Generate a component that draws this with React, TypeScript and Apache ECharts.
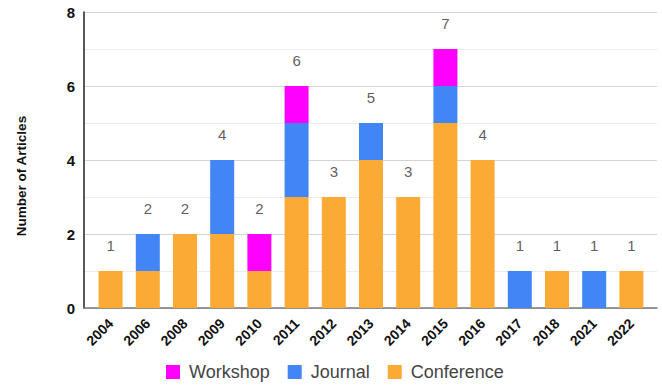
import React, { useEffect, useRef } from "react";
import * as echarts from "echarts";

const years = ["2004", "2006", "2008", "2009", "2010", "2011", "2012", "2013", "2014", "2015", "2016", "2017", "2018", "2021", "2022"];
const conference = [1, 1, 2, 2, 1, 3, 3, 4, 3, 5, 4, 0, 1, 0, 1];
const journal = [0, 1, 0, 2, 0, 2, 0, 1, 0, 1, 0, 1, 0, 1, 0];
const workshop = [0, 0, 0, 0, 1, 1, 0, 0, 0, 1, 0, 0, 0, 0, 0];
const yTicks = [0, 2, 4, 6, 8];

const totals = years.map((_, i) => conference[i] + journal[i] + workshop[i]);

const COLORS = { workshop: "#ff00ff", journal: "#4285f4", conference: "#fbab35" };

export default function App() {
  const ref = useRef<HTMLDivElement>(null);

  useEffect(() => {
    if (!ref.current) return;
    const chart = echarts.init(ref.current, undefined, { renderer: "svg" });
    const nz = (arr: number[]) => arr.map((v) => (v === 0 ? null : v));
    const barBase = { type: "bar", stack: "total", barWidth: 24, xAxisIndex: 1, yAxisIndex: 1 };
    chart.setOption({
      animation: false,
      textStyle: { fontFamily: "Arial, 'Liberation Sans', sans-serif" },
      // grid 0: frame, gridlines and value axis; grid 1: the bars, inset a little
      grid: [
        { left: 84, right: 5, top: 12, bottom: 80 },
        { left: 92, right: 12, top: 12, bottom: 80 },
      ],
      legend: {
        bottom: 2,
        left: 161,
        data: ["Workshop", "Journal", "Conference"],
        itemWidth: 14,
        itemHeight: 14,
        itemGap: 18,
        icon: "rect",
        textStyle: { fontSize: 18, color: "#444", padding: [0, 0, 0, 4] },
      },
      graphic: [
        {
          type: "text",
          x: 21,
          y: 176,
          rotation: Math.PI / 2,
          style: {
            text: "Number of Articles",
            font: "bold 13.5px Arial, 'Liberation Sans', sans-serif",
            fill: "#111",
            textAlign: "center",
            textVerticalAlign: "middle",
          },
        },
      ],
      xAxis: [
        {
          gridIndex: 0,
          type: "value",
          min: 0,
          max: 1,
          axisLine: { show: true, lineStyle: { color: "#7a7a7a", width: 1.5 } },
          axisTick: { show: false },
          axisLabel: { show: false },
          splitLine: { show: false },
        },
        {
          gridIndex: 1,
          type: "category",
          data: years,
          axisLine: { show: false },
          axisTick: { show: false },
          axisLabel: {
            rotate: 45,
            fontSize: 14,
            fontWeight: "bold",
            color: "#111",
            margin: 13,
            interval: 0,
          },
        },
      ],
      yAxis: [
        {
          gridIndex: 0,
          type: "value",
          min: 0,
          max: 8,
          interval: 2,
          axisLine: { show: true, lineStyle: { color: "#222", width: 1.5 } },
          axisTick: { show: false },
          axisLabel: { fontSize: 15, fontWeight: "bold", color: "#111", margin: 9 },
          splitLine: { lineStyle: { color: "#d4d4d4" } },
          minorTick: { show: false, splitNumber: 2 },
          minorSplitLine: { show: true, lineStyle: { color: "#ececec" } },
        },
        {
          gridIndex: 1,
          type: "value",
          min: 0,
          max: 8,
          interval: 2,
          show: false,
        },
      ],
      series: [
        { ...barBase, name: "Conference", itemStyle: { color: COLORS.conference }, data: nz(conference) },
        { ...barBase, name: "Journal", itemStyle: { color: COLORS.journal }, data: nz(journal) },
        { ...barBase, name: "Workshop", itemStyle: { color: COLORS.workshop }, data: nz(workshop) },
        {
          name: "Total",
          type: "scatter",
          xAxisIndex: 1,
          yAxisIndex: 1,
          data: totals,
          symbolSize: 1,
          itemStyle: { color: "rgba(0,0,0,0)" },
          silent: true,
          label: {
            show: true,
            position: "top",
            distance: 18,
            fontSize: 15,
            color: "#333",
          },
        },
      ],
    });
    return () => chart.dispose();
  }, []);

  return <div ref={ref} style={{ width: 662, height: 388, position: "absolute", left: 0, top: 0 }} />;
}
